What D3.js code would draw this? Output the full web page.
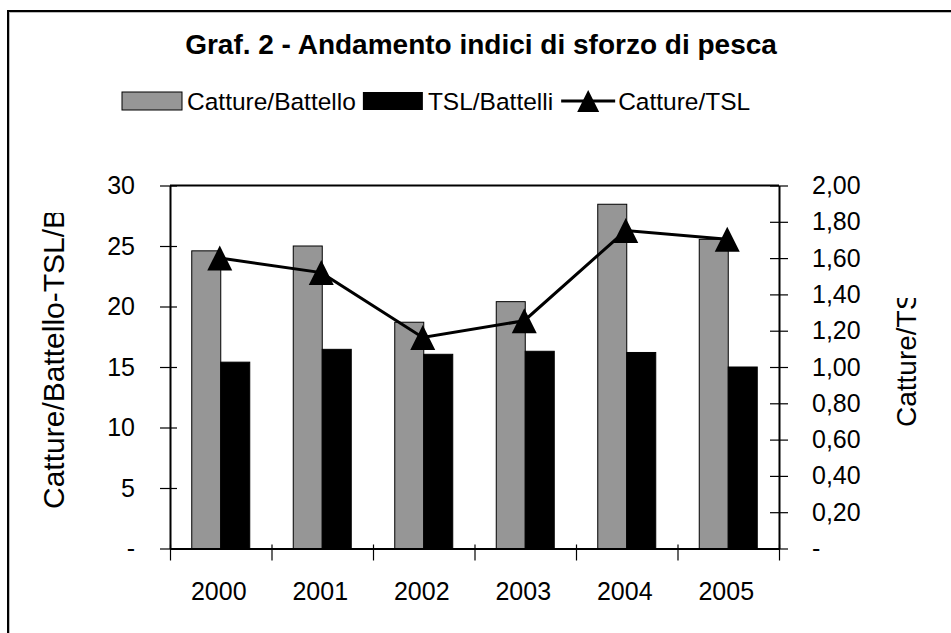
<!DOCTYPE html>
<html>
<head>
<meta charset="utf-8">
<script src="https://cdn.jsdelivr.net/npm/d3@7"></script>
<style>
  html, body { margin: 0; padding: 0; background: #fff; }
  svg { display: block; font-family: "Liberation Sans", Arial, sans-serif; }
</style>
</head>
<body>
<svg id="chart" width="951" height="633"></svg>
<script>
// ---- data ----
const years = ["2000", "2001", "2002", "2003", "2004", "2005"];
const cattureBattello = [24.6, 25.0, 18.7, 20.4, 28.45, 25.55];
const tslBattelli = [15.4, 16.46, 16.05, 16.3, 16.2, 15.0];
const cattureTSL = [1.60, 1.52, 1.163, 1.255, 1.752, 1.704];
const leftTicks = [0, 5, 10, 15, 20, 25, 30];
const rightTicks = [0, 0.2, 0.4, 0.6, 0.8, 1.0, 1.2, 1.4, 1.6, 1.8, 2.0];
const seriesNames = ["Catture/Battello", "TSL/Battelli", "Catture/TSL"];
const titleText = "Graf. 2 - Andamento indici di sforzo di pesca";
const leftAxisTitle = "Catture/Battello-TSL/Battelli";
const rightAxisTitle = "Catture/TSL";

// ---- layout ----
const svg = d3.select("#chart");
const P = { left: 170, right: 779, top: 185.5, bottom: 548.5 };
const FS = 25;
const LFS = 24.5;
const grey = "#969696";
const FONT = "Liberation Sans, Arial, sans-serif";

// outer frame
svg.append("rect").attr("x", 9.5).attr("y", 12.5).attr("width", 1000).attr("height", 700)
  .attr("fill", "none").attr("stroke", "#bbb").attr("stroke-width", 1);
svg.append("rect").attr("x", 8).attr("y", 11).attr("width", 1000).attr("height", 700)
  .attr("fill", "none").attr("stroke", "#000").attr("stroke-width", 2);

const x = d3.scaleBand().domain(years).range([P.left, P.right]).paddingInner(0).paddingOuter(0);
const yL = d3.scaleLinear().domain([0, 30]).range([P.bottom, P.top]);
const yR = d3.scaleLinear().domain([0, 2]).range([P.bottom, P.top]);

const bw = x.bandwidth() / 3.5;
const sub = d3.scaleBand().domain([0, 1]).range([0, 2 * bw]);
const groupOff = (x.bandwidth() - 2 * bw) / 2;

// title
svg.append("text").attr("x", 481).attr("y", 54).attr("text-anchor", "middle")
  .attr("font-size", 28).attr("font-weight", "bold").text(titleText);

// plot area top border
svg.append("line").attr("x1", P.left).attr("x2", P.right).attr("y1", P.top).attr("y2", P.top)
  .attr("stroke", "#000").attr("stroke-width", 2);

// bars
const gBars = svg.append("g");
gBars.selectAll("rect.cb").data(cattureBattello).join("rect")
  .attr("x", (d, i) => x(years[i]) + groupOff + sub(0))
  .attr("y", d => yL(d)).attr("width", sub.bandwidth()).attr("height", d => yL(0) - yL(d))
  .attr("fill", grey).attr("stroke", "#000").attr("stroke-width", 1);
gBars.selectAll("rect.tb").data(tslBattelli).join("rect")
  .attr("x", (d, i) => x(years[i]) + groupOff + sub(1))
  .attr("y", d => yL(d)).attr("width", sub.bandwidth()).attr("height", d => yL(0) - yL(d))
  .attr("fill", "#000").attr("stroke", "#000").attr("stroke-width", 1);

// axes
const fmtL = d => d === 0 ? "-" : d3.format("d")(d);
const fmtR = d => d === 0 ? "-" : d3.format(".2f")(d).replace(".", ",");

const axL = svg.append("g").attr("transform", `translate(${P.left},0)`)
  .call(d3.axisLeft(yL).tickValues(leftTicks).tickFormat(fmtL).tickSizeOuter(0).tickSizeInner(10).tickPadding(25));
axL.select(".domain").attr("stroke-width", 2);
axL.selectAll(".tick line").attr("x1", 7).attr("stroke-width", 1.2);
axL.selectAll(".tick text").attr("font-size", FS).attr("font-family", FONT).attr("fill", "#000");

const axR = svg.append("g").attr("transform", `translate(${P.right},0)`)
  .call(d3.axisRight(yR).tickValues(rightTicks).tickFormat(fmtR).tickSizeOuter(0).tickSizeInner(9).tickPadding(24));
axR.select(".domain").attr("stroke-width", 2);
axR.selectAll(".tick line").attr("x1", -9).attr("stroke-width", 1.2);
axR.selectAll(".tick text").attr("font-size", FS).attr("font-family", FONT).attr("fill", "#000");

const tickPos = years.map(y => x(y)).concat([P.right]);
const xTickScale = d3.scalePoint().domain(d3.range(tickPos.length)).range([P.left, P.right]);
const axB = svg.append("g").attr("transform", `translate(0,${P.bottom})`)
  .call(d3.axisBottom(x).tickSize(0).tickPadding(34));
axB.select(".domain").attr("stroke-width", 2);
axB.selectAll(".tick text").attr("font-size", FS).attr("font-family", FONT).attr("fill", "#000")
  .attr("dx", -2);
const axBT = svg.append("g").attr("transform", `translate(0,${P.bottom})`)
  .call(d3.axisBottom(xTickScale).tickSizeOuter(0).tickSizeInner(12).tickFormat(""));
axBT.select(".domain").remove();
axBT.selectAll(".tick line").attr("y1", -4).attr("stroke-width", 1.2);

// line + markers
const cx = i => x(years[i]) + x.bandwidth() / 2 - 1;
const line = d3.line().x((d, i) => cx(i)).y(d => yR(d));
svg.append("path").datum(cattureTSL).attr("d", line)
  .attr("fill", "none").attr("stroke", "#000").attr("stroke-width", 3);
const tri = (px, py, w, h) => `M${px},${py - h / 2}L${px + w / 2},${py + h / 2}L${px - w / 2},${py + h / 2}Z`;
svg.selectAll("path.mk").data(cattureTSL).join("path")
  .attr("d", (d, i) => tri(cx(i), yR(d), 25, 25)).attr("fill", "#000");

// axis titles (clipped like the original)
const defs = svg.append("defs");
defs.append("clipPath").attr("id", "clipL").append("rect").attr("x", 0).attr("y", 213).attr("width", 100).attr("height", 400);
defs.append("clipPath").attr("id", "clipR").append("rect").attr("x", 860).attr("y", 298).attr("width", 91).attr("height", 300);
svg.append("g").attr("clip-path", "url(#clipL)").append("text")
  .attr("transform", "translate(64,509) rotate(-90)").attr("font-size", 30).text(leftAxisTitle);
svg.append("g").attr("clip-path", "url(#clipR)").append("text")
  .attr("transform", "translate(916,427) rotate(-90)").attr("font-size", 28).text(rightAxisTitle);

// legend
const lg = svg.append("g");
const ly = 101;
let lx = 122;
lg.append("rect").attr("x", lx).attr("y", ly - 9).attr("width", 60).attr("height", 18)
  .attr("fill", grey).attr("stroke", "#000").attr("stroke-width", 1);
let t = lg.append("text").attr("x", lx + 65).attr("y", ly + 9).attr("font-size", LFS).text(seriesNames[0]);
lx = lx + 65 + t.node().getComputedTextLength() + 7;
lg.append("rect").attr("x", lx).attr("y", ly - 9).attr("width", 60).attr("height", 18).attr("fill", "#000");
t = lg.append("text").attr("x", lx + 65).attr("y", ly + 9).attr("font-size", LFS).text(seriesNames[1]);
lx = lx + 65 + t.node().getComputedTextLength() + 8;
lg.append("line").attr("x1", lx).attr("x2", lx + 54).attr("y1", ly).attr("y2", ly).attr("stroke", "#000").attr("stroke-width", 3);
lg.append("path").attr("d", tri(lx + 27, ly, 22, 22)).attr("fill", "#000");
lg.append("text").attr("x", lx + 57).attr("y", ly + 9).attr("font-size", LFS).text(seriesNames[2]);
</script>
</body>
</html>
